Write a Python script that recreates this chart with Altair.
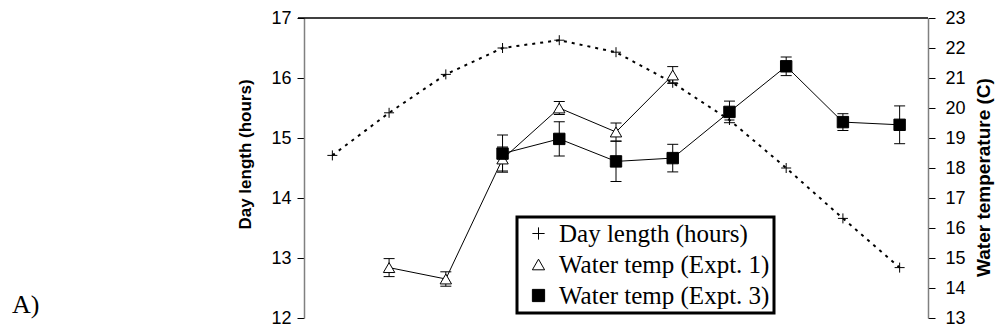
import altair as alt
import pandas as pd

# Sampling periods (11 along the x axis, plotted at band centres)
periods = list(range(1, 12))

# Day length (hours), left axis
day_length = [14.71, 15.42, 16.06, 16.50, 16.63, 16.43, 15.92, 15.30, 14.50, 13.66, 12.84]

# Water temperature (C), right axis
expt1_periods = [2, 3, 4, 5, 6, 7]
expt1_temp = [14.68, 14.30, 18.30, 20.00, 19.20, 21.10]
expt1_err = [0.30, 0.24, 0.40, 0.22, 0.30, 0.28]

expt3_periods = [4, 5, 6, 7, 8, 9, 10, 11]
expt3_temp = [18.48, 18.97, 18.22, 18.33, 19.87, 21.39, 19.53, 19.44]
expt3_err = [0.62, 0.57, 0.67, 0.46, 0.36, 0.31, 0.28, 0.63]

series_names = ["Day length (hours)", "Water temp (Expt. 1)", "Water temp (Expt. 3)"]

day_df = pd.DataFrame({
    "pos": [p - 0.5 for p in periods],
    "value": day_length,
    "series": series_names[0],
})

temp_df = pd.concat([
    pd.DataFrame({
        "pos": [p - 0.5 for p in expt1_periods],
        "value": expt1_temp,
        "lo": [v - e for v, e in zip(expt1_temp, expt1_err)],
        "hi": [v + e for v, e in zip(expt1_temp, expt1_err)],
        "series": series_names[1],
    }),
    pd.DataFrame({
        "pos": [p - 0.5 for p in expt3_periods],
        "value": expt3_temp,
        "lo": [v - e for v, e in zip(expt3_temp, expt3_err)],
        "hi": [v + e for v, e in zip(expt3_temp, expt3_err)],
        "series": series_names[2],
    }),
])

plus_path = "M-1,0H1M0,-1V1"
shape_scale = alt.Scale(domain=series_names, range=[plus_path, "triangle-up", "square"])
fill_scale = alt.Scale(domain=series_names, range=["black", "white", "black"])
stroke_scale = alt.Scale(domain=series_names, range=["black", "black", "black"])

legend = alt.Legend(
    title=None,
    orient="none",
    legendX=213,
    legendY=199,
    strokeColor="black",
    fillColor="white",
    padding=4,
    symbolOffset=5,
    labelOffset=8,
    rowPadding=5,
    labelFont="Liberation Serif",
    labelFontSize=25,
    labelColor="black",
    labelLimit=400,
    symbolSize=150,
    symbolStrokeWidth=1,
)

x_scale = alt.Scale(domain=[0, 11], nice=False)
x_axis = alt.X(
    "pos:Q",
    scale=x_scale,
    axis=alt.Axis(
        values=list(range(0, 12)),
        labels=False,
        title=None,
        grid=False,
        tickSize=5,
        tickColor="black",
        domainColor="black",
        domainWidth=1,
    ),
)
x_plain = alt.X("pos:Q", scale=x_scale, axis=None)

label_font = "Liberation Sans"
left_scale = alt.Scale(domain=[12, 17], nice=False, zero=False)
right_scale = alt.Scale(domain=[13, 23], nice=False, zero=False)

axis_style = dict(
    titleFont=label_font,
    titleFontWeight="bold",
    titleColor="black",
    labelFont=label_font,
    labelFontSize=18,
    labelColor="black",
    tickSize=7,
    tickColor="black",
    domainColor="#808080",
    domainWidth=1.5,
    grid=False,
)

y_left = alt.Y(
    "value:Q",
    scale=left_scale,
    axis=alt.Axis(orient="left", values=[12, 13, 14, 15, 16, 17],
                  title="Day length (hours)", titleFontSize=17, titlePadding=16,
                  titleY=136, labelPadding=6, **axis_style),
)
y_right = alt.Y(
    "value:Q",
    scale=right_scale,
    axis=alt.Axis(orient="right", values=list(range(13, 24)),
                  title="Water temperature (C)", titleAngle=270, titleBaseline="top",
                  titleFontSize=19, titlePadding=9, titleY=159, labelPadding=10, **axis_style),
)


def point_enc(scale):
    return dict(
        x=x_plain,
        y=alt.Y("value:Q", scale=scale, axis=None),
        shape=alt.Shape("series:N", scale=shape_scale, legend=legend),
        fill=alt.Fill("series:N", scale=fill_scale, legend=legend),
        stroke=alt.Stroke("series:N", scale=stroke_scale, legend=legend),
    )


# Day length: dotted curve with plus markers (left axis)
day_base = alt.Chart(day_df)
day_line = day_base.mark_line(color="black", strokeDash=[3, 5], strokeWidth=2).encode(
    x=x_axis, y=y_left
)
day_pts = day_base.mark_point(strokeWidth=1, size=100, opacity=1).encode(**point_enc(left_scale))

# Water temperatures: solid lines, error bars and markers (right axis)
temp_base = alt.Chart(temp_df)
temp_line = temp_base.mark_line(color="black", strokeWidth=1).encode(
    x=x_plain, y=y_right, detail="series:N"
)
err_rule = temp_base.mark_rule(color="black", strokeWidth=1).encode(
    x=x_plain,
    y=alt.Y("lo:Q", scale=right_scale, axis=None),
    y2="hi:Q",
)
cap_lo = temp_base.mark_tick(color="black", thickness=1, size=11, orient="horizontal", opacity=1).encode(
    x=x_plain, y=alt.Y("lo:Q", scale=right_scale, axis=None)
)
cap_hi = temp_base.mark_tick(color="black", thickness=1, size=11, orient="horizontal", opacity=1).encode(
    x=x_plain, y=alt.Y("hi:Q", scale=right_scale, axis=None)
)
temp_pts = temp_base.mark_point(strokeWidth=1, size=130, opacity=1).encode(**point_enc(right_scale))

# Black frame line along the top of the plot area
top_border = alt.Chart(pd.DataFrame({"k": [0]})).mark_rule(color="black", strokeWidth=1.5).encode(
    x=alt.value(-6), x2=alt.value(624), y=alt.value(0)
)

panel_label = alt.Chart(pd.DataFrame({"t": ["A)"]})).mark_text(
    font="Liberation Serif", fontSize=26, color="black", align="left", baseline="alphabetic"
).encode(x=alt.value(-292), y=alt.value(295), text="t:N")

chart = (
    alt.layer(day_line, day_pts, temp_line, err_rule, cap_lo, cap_hi, temp_pts, top_border, panel_label)
    .resolve_scale(y="independent")
    .properties(
        width=624,
        height=300,
        autosize="none",
        padding={"left": 304, "top": 18, "right": 73, "bottom": 18},
        background="white",
    )
    .configure_view(stroke="transparent")
    .configure_legend(strokeWidth=3)
)

chart.save("out.html", embed_options={"renderer": "svg", "actions": False})
